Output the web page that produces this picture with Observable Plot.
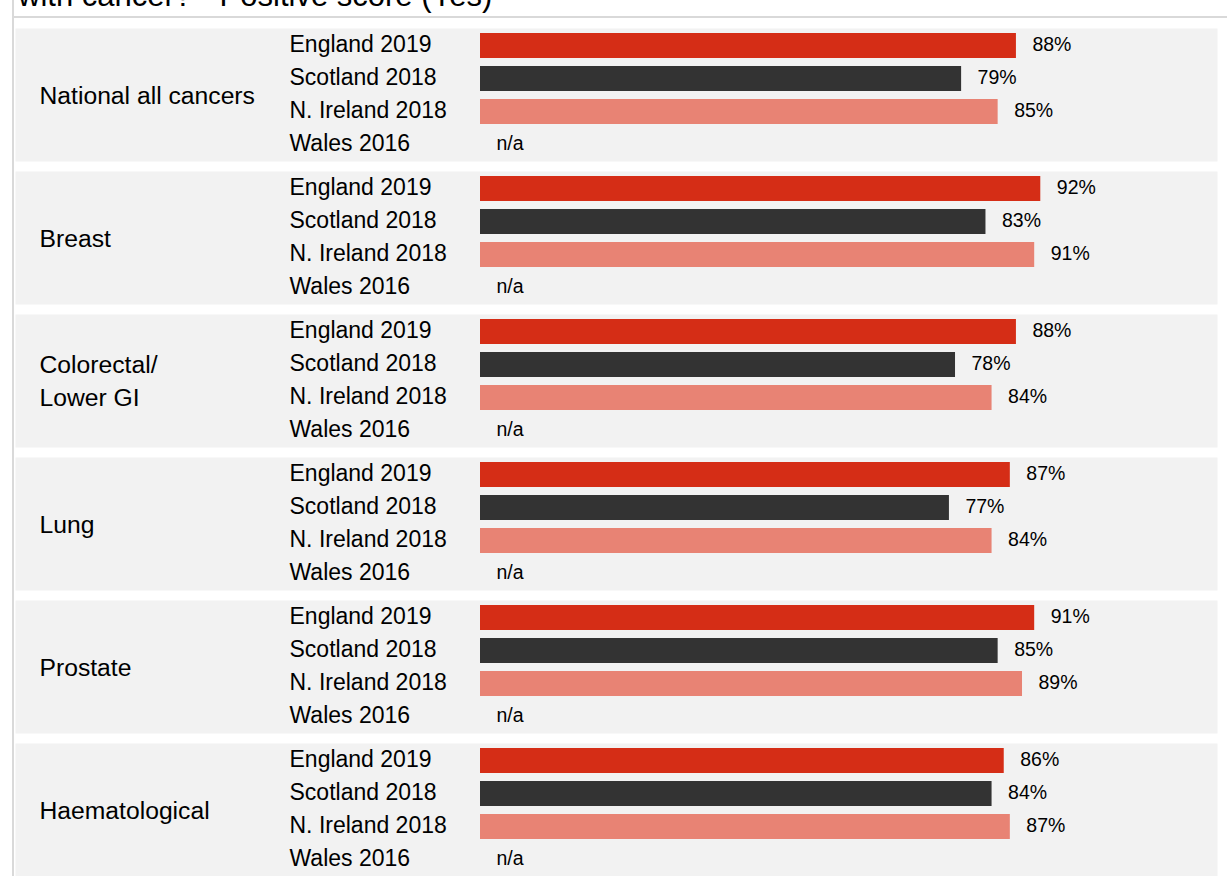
<!DOCTYPE html>
<html>
<head>
<meta charset="utf-8">
<script src="https://cdn.jsdelivr.net/npm/d3@7"></script>
<script src="https://cdn.jsdelivr.net/npm/@observablehq/plot@0.6"></script>
<style>
  html, body { margin: 0; padding: 0; background: #fff; }
  #wrap { position: relative; width: 1227px; height: 876px; overflow: hidden; font-family: "Liberation Sans", Arial, sans-serif; }
  #title { position: absolute; left: 18px; top: -19px; font-size: 31px; line-height: 30px; color: #000; white-space: nowrap; }
  #vline { position: absolute; left: 12px; top: 0; width: 2px; height: 876px; background: #d9d9d9; }
  #hline { position: absolute; left: 12px; top: 16px; width: 1215px; height: 2px; background: #d9d9d9; }
  #chart { position: absolute; left: 0; top: 0; }
</style>
</head>
<body>
<div id="wrap">
  <div id="title">with cancer? - Positive score (Yes)</div>
  <div id="vline"></div>
  <div id="hline"></div>
  <div id="chart"></div>
</div>
<script>
const categories = ["National all cancers", "Breast", "Colorectal/\nLower GI", "Lung", "Prostate", "Haematological"];
const countries = ["England 2019", "Scotland 2018", "N. Ireland 2018", "Wales 2016"];
const england  = [88, 92, 88, 87, 91, 86];
const scotland = [79, 83, 78, 77, 85, 84];
const nireland = [85, 91, 84, 84, 89, 87];
const wales    = [null, null, null, null, null, null];
const colors = ["#d52d16", "#333333", "#e88374", "#cccccc"];

const series = [england, scotland, nireland, wales];
const rows = [];
categories.forEach((c, i) => {
  countries.forEach((k, j) => {
    rows.push({category: c, country: k, value: series[j][i]});
  });
});

const chart = Plot.plot({
  width: 1227,
  height: 876,
  marginTop: 27,
  marginBottom: 0,
  marginLeft: 15,
  marginRight: 10,
  style: {fontFamily: "'Liberation Sans', Arial, sans-serif", background: "transparent", color: "#000"},
  x: {domain: [0, 100], range: [480, 1089], axis: null},
  y: {domain: countries, axis: null, paddingInner: 0.25, paddingOuter: 0.125},
  fy: {domain: categories, axis: null, paddingInner: 0.07, paddingOuter: 0},
  color: {domain: countries, range: colors},
  marks: [
    Plot.frame({fill: "#f2f2f2", stroke: null}),
    Plot.barX(rows.filter(d => d.value != null), {x: "value", y: "country", fy: "category", fill: "country"}),
    Plot.text(rows, {x: d => d.value ?? 0, y: "country", fy: "category",
      text: d => d.value == null ? "n/a" : d.value + "%", dx: 16, dy: -1, textAnchor: "start", fontSize: 19.5, fill: "#000"}),
    Plot.text(rows, {y: "country", fy: "category", text: "country", frameAnchor: "left", dx: 274, dy: -1, textAnchor: "start", fontSize: 23, fill: "#000"}),
    Plot.text(categories, {fy: d => d, text: d => d, frameAnchor: "left", dx: 24, dy: -2, textAnchor: "start", fontSize: 24.7, lineHeight: 1.33, fill: "#000"})
  ]
});
document.getElementById("chart").appendChild(chart);
</script>
</body>
</html>
